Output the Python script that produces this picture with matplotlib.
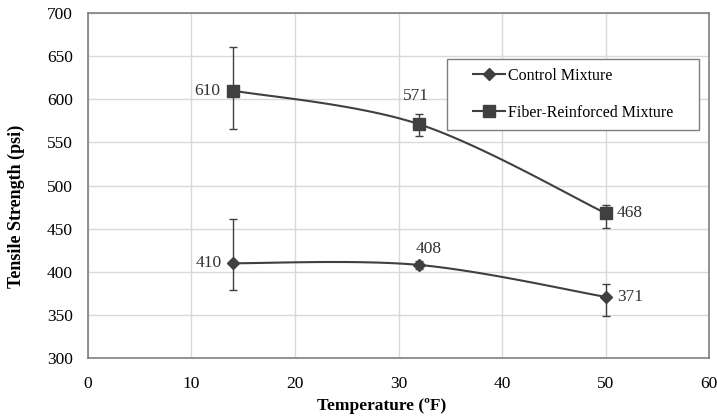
import numpy as np
import matplotlib.pyplot as plt
from matplotlib.patches import Rectangle

plt.rcParams['font.family'] = ['Liberation Serif', 'DejaVu Serif']

# data
temps = [14, 32, 50]
control = [410, 408, 371]
control_lo = [379, 403, 349]
control_hi = [461, 413, 386]
fiber = [610, 571, 468]
fiber_lo = [565, 557, 451]
fiber_hi = [660, 583, 478]


def smooth(xs, ys, n=40):
    # Excel-like smoothed line (Catmull-Rom as cubic Bezier)
    p = np.column_stack([xs, ys]).astype(float)
    out = []
    for i in range(len(p) - 1):
        p0 = p[i - 1] if i > 0 else p[i]
        p1, p2 = p[i], p[i + 1]
        p3 = p[i + 2] if i + 2 < len(p) else p[i + 1]
        c1 = p1 + (p2 - p0) / 6
        c2 = p2 - (p3 - p1) / 6
        t = np.linspace(0, 1, n)[:, None]
        seg = (1 - t) ** 3 * p1 + 3 * (1 - t) ** 2 * t * c1 + 3 * (1 - t) * t ** 2 * c2 + t ** 3 * p2
        out.append(seg if i == 0 else seg[1:])
    seg = np.vstack(out)
    return seg[:, 0], seg[:, 1]


fig = plt.figure(figsize=(7.17, 4.16), dpi=100)
ax = fig.add_axes([0.1227, 0.139, 0.8663, 0.83])
col = "#404040"

for ys, lo, hi, mk, ms, lab in [(control, control_lo, control_hi, "D", 6, "Control Mixture"),
                                (fiber, fiber_lo, fiber_hi, "s", 8, "Fiber-Reinforced Mixture")]:
    sx, sy = smooth(temps, ys)
    ax.plot(sx, sy, color=col, lw=1.5, zorder=3)
    ys = np.array(ys)
    ax.errorbar(temps, ys, yerr=[ys - np.array(lo), np.array(hi) - ys], fmt="none",
                ecolor=col, elinewidth=1, capsize=3, capthick=1, zorder=3)
    ax.plot(temps, ys, marker=mk, ms=ms, color=col, ls="none", zorder=4)
    ax.plot([], [], marker=mk, ms=ms, color=col, lw=1.5, label=lab)

# data labels
lab_kw = dict(fontsize=12.5, color="#333333")
offsets = [(-1.2, 0, "right", "center"), (-0.3, 24, "center", "bottom"), (1.1, 0, "left", "center")]
for x, y, (dx, dy, ha, va) in zip(temps, fiber, offsets):
    ax.text(x + dx, y + dy, str(y), ha=ha, va=va, **lab_kw)
offsets = [(-1.1, 0, "right", "center"), (0.9, 9, "center", "bottom"), (1.1, 0, "left", "center")]
for x, y, (dx, dy, ha, va) in zip(temps, control, offsets):
    ax.text(x + dx, y + dy, str(y), ha=ha, va=va, **lab_kw)

ax.set_xlim(0, 60)
ax.set_ylim(300, 700)
ax.set_xticks(range(0, 61, 10))
ax.set_yticks(range(300, 701, 50))
ax.grid(True, color="#d9d9d9", lw=1)
ax.set_axisbelow(True)
ax.tick_params(length=0, labelsize=12.5)
ax.tick_params(axis="x", pad=13)
ax.tick_params(axis="y", pad=11)
for s in ax.spines.values():
    s.set_color("#7f7f7f")
    s.set_linewidth(1.2)

ax.set_xlabel("Temperature (\u00baF)", fontsize=12.5, fontweight="bold", labelpad=4)
ax.xaxis.set_label_coords(0.473, -0.115)
ax.set_ylabel("Tensile Strength (psi)", fontsize=13, fontweight="bold")
ax.yaxis.set_label_coords(-0.101, 0.44)

# legend frame drawn separately, legend centred inside it
ax.add_patch(Rectangle((0.578, 0.661), 0.406, 0.206, transform=ax.transAxes, facecolor="white",
                       edgecolor="#7f7f7f", lw=1, zorder=5))
leg = ax.legend(loc="center", bbox_to_anchor=(0.781, 0.764), fontsize=11.5, frameon=False,
                handlelength=2.0, labelspacing=1.3, borderpad=0, handletextpad=0.15,
                borderaxespad=0)
leg.set_zorder(6)

fig.savefig("out.png", dpi=100)
